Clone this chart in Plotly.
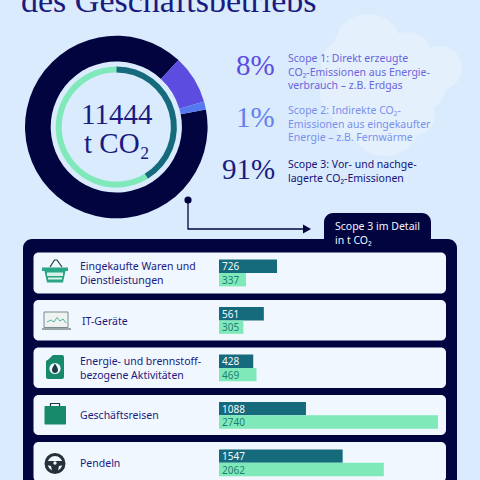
import plotly.graph_objects as go
import math

# ---- data ----
categories = ["Eingekaufte Waren und<br>Dienstleistungen", "IT-Geräte",
              "Energie- und brennstoff-<br>bezogene Aktivitäten", "Geschäftsreisen", "Pendeln"]
series_a = [726, 561, 428, 1088, 1547]
series_b = [337, 305, 469, 2740, 2062]
scope_labels = ["Scope 3", "Scope 1", "Scope 2"]
scope_share = [90.0, 8.6, 1.4]
inner_labels = ["A", "B"]
inner_share = [41.3, 58.7]
scope_pct = ["8%", "1%", "91%"]
scope_text = ["Scope 1: Direkt erzeugte<br>CO₂-Emissionen aus Energie-<br>verbrauch – z.B. Erdgas",
              "Scope 2: Indirekte CO₂-<br>Emissionen aus eingekaufter<br>Energie – z.B. Fernwärme",
              "Scope 3: Vor- und nachge-<br>lagerte CO₂-Emissionen"]

NAVY = "#02043f"
INK = "#1b1a80"
TEAL = "#156a7c"
MINT = "#80e9b9"
GREEN = "#178a6c"
BG = "#d9ebfd"
CLOUD = "#e4f1fd"
ROW = "#f0f7ff"
SERIF = "Liberation Serif"
SANS = "Noto Sans"

W = H = 480
def px(x): return x / W
def py(y): return 1 - y / H

def path(cmds):
    out = []
    for c in cmds:
        if isinstance(c, str):
            out.append(c)
        else:
            out.append(f"{px(c[0]):.5f},{py(c[1]):.5f}")
    return " ".join(out)

def pshape(cmds, fill=None, line=None, lw=0, layer="below"):
    return dict(type="path", xref="paper", yref="paper", path=path(cmds), fillcolor=fill or "rgba(0,0,0,0)",
                line=dict(color=line or "rgba(0,0,0,0)", width=lw), layer=layer)

def rect(x0, y0, x1, y1, fill, r=0, line=None, lw=0, layer="below"):
    if r == 0:
        return pshape(["M", (x0, y0), "L", (x1, y0), "L", (x1, y1), "L", (x0, y1), "Z"], fill, line, lw, layer)
    k = 0.55 * r
    return pshape(["M", (x0 + r, y0), "L", (x1 - r, y0), "C", (x1 - r + k, y0), (x1, y0 + r - k), (x1, y0 + r),
                   "L", (x1, y1 - r), "C", (x1, y1 - r + k), (x1 - r + k, y1), (x1 - r, y1),
                   "L", (x0 + r, y1), "C", (x0 + r - k, y1), (x0, y1 - r + k), (x0, y1 - r),
                   "L", (x0, y0 + r), "C", (x0, y0 + r - k), (x0 + r - k, y0), (x0 + r, y0), "Z"], fill, line, lw, layer)

def circle(cx, cy, r, fill=None, line=None, lw=0, layer="below"):
    return dict(type="circle", xref="paper", yref="paper", x0=px(cx - r), x1=px(cx + r), y0=py(cy + r), y1=py(cy - r),
                fillcolor=fill or "rgba(0,0,0,0)", line=dict(color=line or "rgba(0,0,0,0)", width=lw), layer=layer)

def seg(pts, color, lw):
    c = ["M", pts[0]]
    for p in pts[1:]:
        c += ["L", p]
    return pshape(c, None, color, lw)

shapes = []
# cloud
for cx, cy, r in [(368, 48, 34), (345, 64, 24), (408, 56, 24), (440, 68, 22), (385, 75, 40), (420, 85, 26),
                  (345, 95, 25), (385, 120, 36), (355, 118, 22), (415, 115, 20)]:
    shapes.append(circle(cx, cy, r, CLOUD))

# panel
shapes.append(rect(324, 213, 431, 262, NAVY, r=9))
shapes.append(rect(23, 239, 457, 530, NAVY, r=9))
for y0, y1 in [(252.5, 293.5), (300, 340.5), (347.5, 388), (395, 435), (442, 482)]:
    shapes.append(rect(33.5, y0, 446, y1, ROW, r=5))

# connector
shapes.append(circle(188, 200, 3.6, NAVY))
shapes.append(seg([(188, 200), (188, 229), (305, 229)], NAVY, 1.3))
shapes.append(pshape(["M", (303, 224.5), "L", (311, 229), "L", (303, 233.5), "Z"], NAVY))

# basket icon
shapes.append(seg([(50, 267), (54.5, 260), (57, 260), (62, 267)], "#1d3a45", 1.2))
shapes.append(rect(42, 267.5, 68, 271, "#2aa585"))
shapes.append(pshape(["M", (44.5, 271), "L", (65.5, 271), "L", (63, 282.5), "L", (47, 282.5), "Z"], "#2aa585"))
shapes.append(rect(47, 272.5, 63, 276, "#d8f2ea"))
shapes.append(rect(48, 277.5, 62, 279.5, "#d8f2ea"))
# laptop icon
shapes.append(rect(44, 312, 68, 327.5, "#eef3f2", line="#7a8a8c", lw=1))
shapes.append(seg([(47, 322), (51, 320), (54, 322), (57, 317.5), (60, 321), (63, 319), (66, 323)], "#2aa585", 0.8))
shapes.append(rect(42, 328, 71, 330, "#9aa5a8"))
# canister icon
shapes.append(pshape(["M", (49, 359), "L", (53, 355), "L", (62, 355), "Q", (64, 355), (64, 357), "L", (64, 377),
                      "Q", (64, 379), (62, 379), "L", (48, 379), "Q", (46, 379), (46, 377), "L", (46, 361), "Z"], GREEN))
shapes.append(circle(55, 368.5, 5.6, ROW))
shapes.append(pshape(["M", (55, 363.5), "C", (57, 367), (58, 368), (58, 370), "C", (58, 374), (52, 374), (52, 370),
                      "C", (52, 368), (53, 367), (55, 363.5), "Z"], "#1d3a45"))
# briefcase icon
shapes.append(seg([(50.5, 406), (50.5, 403.5), (59.5, 403.5), (59.5, 406)], "#1d3a45", 1.2))
shapes.append(rect(44.5, 406, 66, 424.5, GREEN, r=1))
# wheel icon
shapes.append(circle(55, 463.5, 9, None, "#26303a", 3))
shapes.append(pshape(["M", (46, 461), "L", (64, 461), "L", (64, 465), "L", (59, 466), "L", (57.5, 473), "L", (52.5, 473),
                      "L", (51, 466), "L", (46, 465), "Z"], "#26303a"))
shapes.append(circle(55, 463, 1.7, ROW))

fig = go.Figure()

# donut
cx, cy = 116.3, 127
R1 = 91.3
R2 = 60.6
fig.add_trace(go.Pie(labels=scope_labels, values=scope_share, sort=False, direction="clockwise", rotation=78.9,
                     hole=65.6 / R1, marker=dict(colors=[NAVY, "#5d4ce0", "#5577f0"], line=dict(width=0)),
                     textinfo="none", hoverinfo="label+value", showlegend=False,
                     domain=dict(x=[px(cx - R1), px(cx + R1)], y=[py(cy + R1), py(cy - R1)])))
fig.add_trace(go.Pie(labels=inner_labels, values=inner_share, sort=False, direction="clockwise", rotation=0,
                     hole=54.6 / R2, marker=dict(colors=[TEAL, MINT], line=dict(width=0)),
                     textinfo="none", hoverinfo="label+value", showlegend=False,
                     domain=dict(x=[px(cx - R2), px(cx + R2)], y=[py(cy + R2), py(cy - R2)])))

# bars
cat_idx = list(range(len(categories)))
fig.add_trace(go.Bar(y=cat_idx, x=series_a, orientation="h", marker=dict(color=TEAL, line=dict(width=0)),
                     text=series_a, textposition="inside", insidetextanchor="start", textangle=0,
                     constraintext="none", insidetextfont=dict(color="#f4fbff", family=SANS, size=10),
                     showlegend=False, cliponaxis=True))
fig.add_trace(go.Bar(y=cat_idx, x=series_b, orientation="h", marker=dict(color=MINT, line=dict(width=0)),
                     text=series_b, textposition="inside", insidetextanchor="start", textangle=0,
                     constraintext="none", insidetextfont=dict(color="#1f7f75", family=SANS, size=10),
                     showlegend=False, cliponaxis=True))

annotations = []
def text(x, y, s, size, color, family=SANS, xanchor="left", yanchor="middle", align="left"):
    annotations.append(dict(x=px(x), y=py(y), xref="paper", yref="paper", text=s, showarrow=False,
                            font=dict(size=size, color=color, family=family), xanchor=xanchor, yanchor=yanchor,
                            align=align, borderpad=0, borderwidth=0))

text(169, 0, "des Geschäftsbetriebs", 34, INK, SERIF, "center")
text(116.5, 113.5, "11444", 29, INK, SERIF, "center")
text(116.5, 143, "t CO₂", 29, INK, SERIF, "center")

pct_col = ["#5d4ce0", "#6680ee", INK]
txt_col = ["#6c64dc", "#7a90ee", "#14127a"]
pct_y = [65, 117, 169]
txt_y = [71.5, 123.5, 170.5]
for p, t, c1, c2, y1, y2 in zip(scope_pct, scope_text, pct_col, txt_col, pct_y, txt_y):
    text(275, y1, p, 29, c1, SERIF, "right")
    text(288, y2, t, 10.5, c2)

row_y = [273, 320.5, 367.7, 415.3, 462.7]
row_x = [80, 82, 80, 80, 80]
for c, x, y in zip(categories, row_x, row_y):
    text(x, y, c, 10.5, INK)

text(335, 232.5, "Scope 3 im Detail<br>in t CO₂", 10.5, "#f0f4ff")

fig.update_layout(
    width=W, height=H, margin=dict(l=0, r=0, t=0, b=0),
    paper_bgcolor=BG, plot_bgcolor="rgba(0,0,0,0)", barmode="group", bargap=0.435, bargroupgap=0,
    showlegend=False, shapes=shapes, annotations=annotations,
    xaxis=dict(domain=[px(219), px(438)], range=[0, 2740], visible=False, fixedrange=True),
    yaxis=dict(domain=[0, 1], range=[(480 - 273) / 47.45, -273 / 47.45], visible=False, fixedrange=True),
)
fig.write_html("out.html", config=dict(displayModeBar=False),
               post_script="document.body.style.margin='0';document.body.style.background='%s';" % BG)
